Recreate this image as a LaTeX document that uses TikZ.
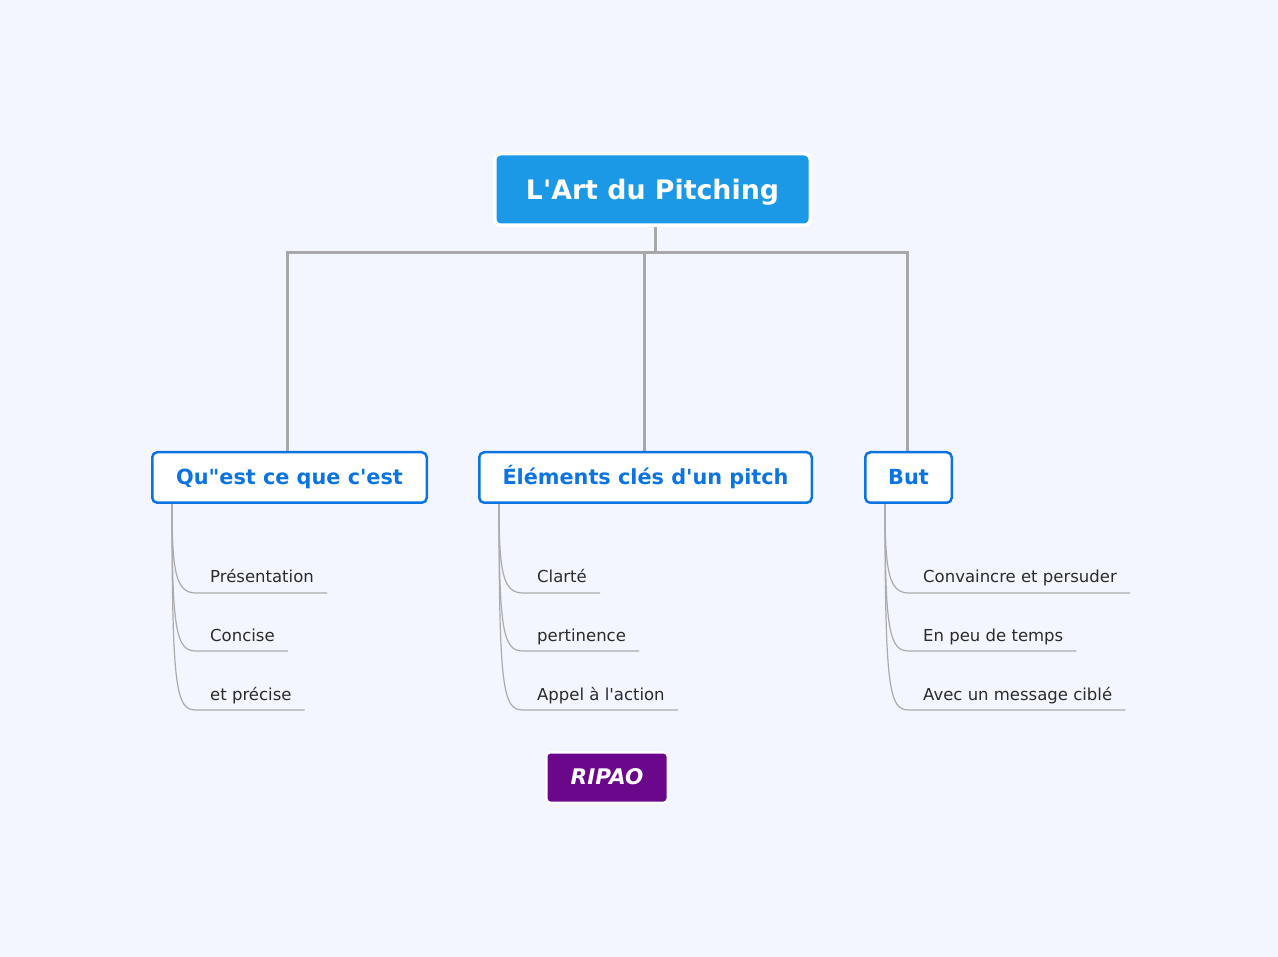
\documentclass[tikz,border=0pt]{standalone}
\usepackage{fontspec}
\setmainfont{DejaVu Sans}
\usetikzlibrary{calc,backgrounds}
\definecolor{bg}{HTML}{F3F6FE}
\definecolor{rootblue}{HTML}{1B98E6}
\definecolor{brblue}{HTML}{0C74E0}
\definecolor{trunkgray}{HTML}{A8A8A8}
\definecolor{leafgray}{HTML}{ABABAB}
\definecolor{leaftext}{HTML}{2B2B2B}
\definecolor{ripao}{HTML}{6B078A}
\begin{document}
\begin{tikzpicture}[x=1pt,y=-1pt,
 rootbox/.style={draw=white, line width=3.5pt, fill=rootblue, rounded corners=6pt, minimum width=315.5pt, minimum height=71.5pt, inner sep=0pt, text height=19.5pt, text depth=0pt, text=white, font=\fontsize{26.8}{31}\selectfont\bfseries},
 branchbox/.style={draw=brblue, line width=2.5pt, fill=white, rounded corners=5pt, minimum height=50.5pt, inner sep=0pt, text height=15pt, text depth=0pt, text=brblue, font=\fontsize{20.8}{24}\selectfont\bfseries},
 leaf/.style={inner sep=0pt, anchor=base west, text=leaftext, font=\fontsize{16.5}{19}\selectfont},
 trunk/.style={draw=trunkgray, line width=3pt},
 leafline/.style={draw=leafgray, line width=1.2pt},
 tagbox/.style={draw=white, line width=2.5pt, fill=ripao, rounded corners=4pt, minimum width=121.5pt, minimum height=50.5pt, inner sep=0pt, text height=14pt, text depth=0pt, text=white, font=\fontsize{21.5}{24}\selectfont\bfseries\itshape}]
\useasboundingbox (0,0) rectangle (1278,957);

\node[rootbox] (root) at (652.5,189.5) {L\textquotesingle Art du Pitching};
\node[branchbox, minimum width=274.5pt] (b1) at (289.5,477.5) {Qu\textquotedbl est ce que c\textquotesingle est};
\node[branchbox, minimum width=332.5pt] (b2) at (645.5,477.5) {Éléments clés d\textquotesingle un pitch};
\node[branchbox, minimum width=86.5pt] (b3) at (908.5,477.5) {But};
\node[tagbox] (tag) at (607,777.5) {RIPAO};

\foreach \b in {1,2,3} {
  \coordinate (s\b) at ($(b\b.south west)+(21,0)$);
}

\foreach \b/\i/\y/\t in {1/1/593/Présentation, 1/2/651/Concise, 1/3/710/et précise,
  2/1/593/Clarté, 2/2/651/pertinence, 2/3/710/Appel à l\textquotesingle action,
  3/1/593/Convaincre et persuder, 3/2/651/En peu de temps, 3/3/710/Avec un message ciblé} {
  \coordinate (e\b\i) at (s\b |- 0,\y);
  \node[leaf] (l\b\i) at ($(e\b\i)+(38,-10)$) {\t};
}

\begin{scope}[on background layer]
  \fill[bg] (0,0) rectangle (1278,957);
  \draw[trunk] ([xshift=3]root.south) -- ++(0,26) -| ([xshift=-2.5]b1.north);
  \draw[trunk] ([xshift=3]root.south) -- ++(0,26) -| ([xshift=-1.5]b2.north);
  \draw[trunk] ([xshift=3]root.south) -- ++(0,26) -| ([xshift=-1.5]b3.north);
  \foreach \b in {1,2,3} {
    \foreach \i in {1,2,3} {
      \draw[leafline] (s\b) .. controls ($(e\b\i)+(0,-20)$) and ($(e\b\i)+(4,0)$) .. ($(e\b\i)+(24,0)$) -- ($(l\b\i.base east)+(13,10)$);
    }
  }
\end{scope}
\end{tikzpicture}
\end{document}
